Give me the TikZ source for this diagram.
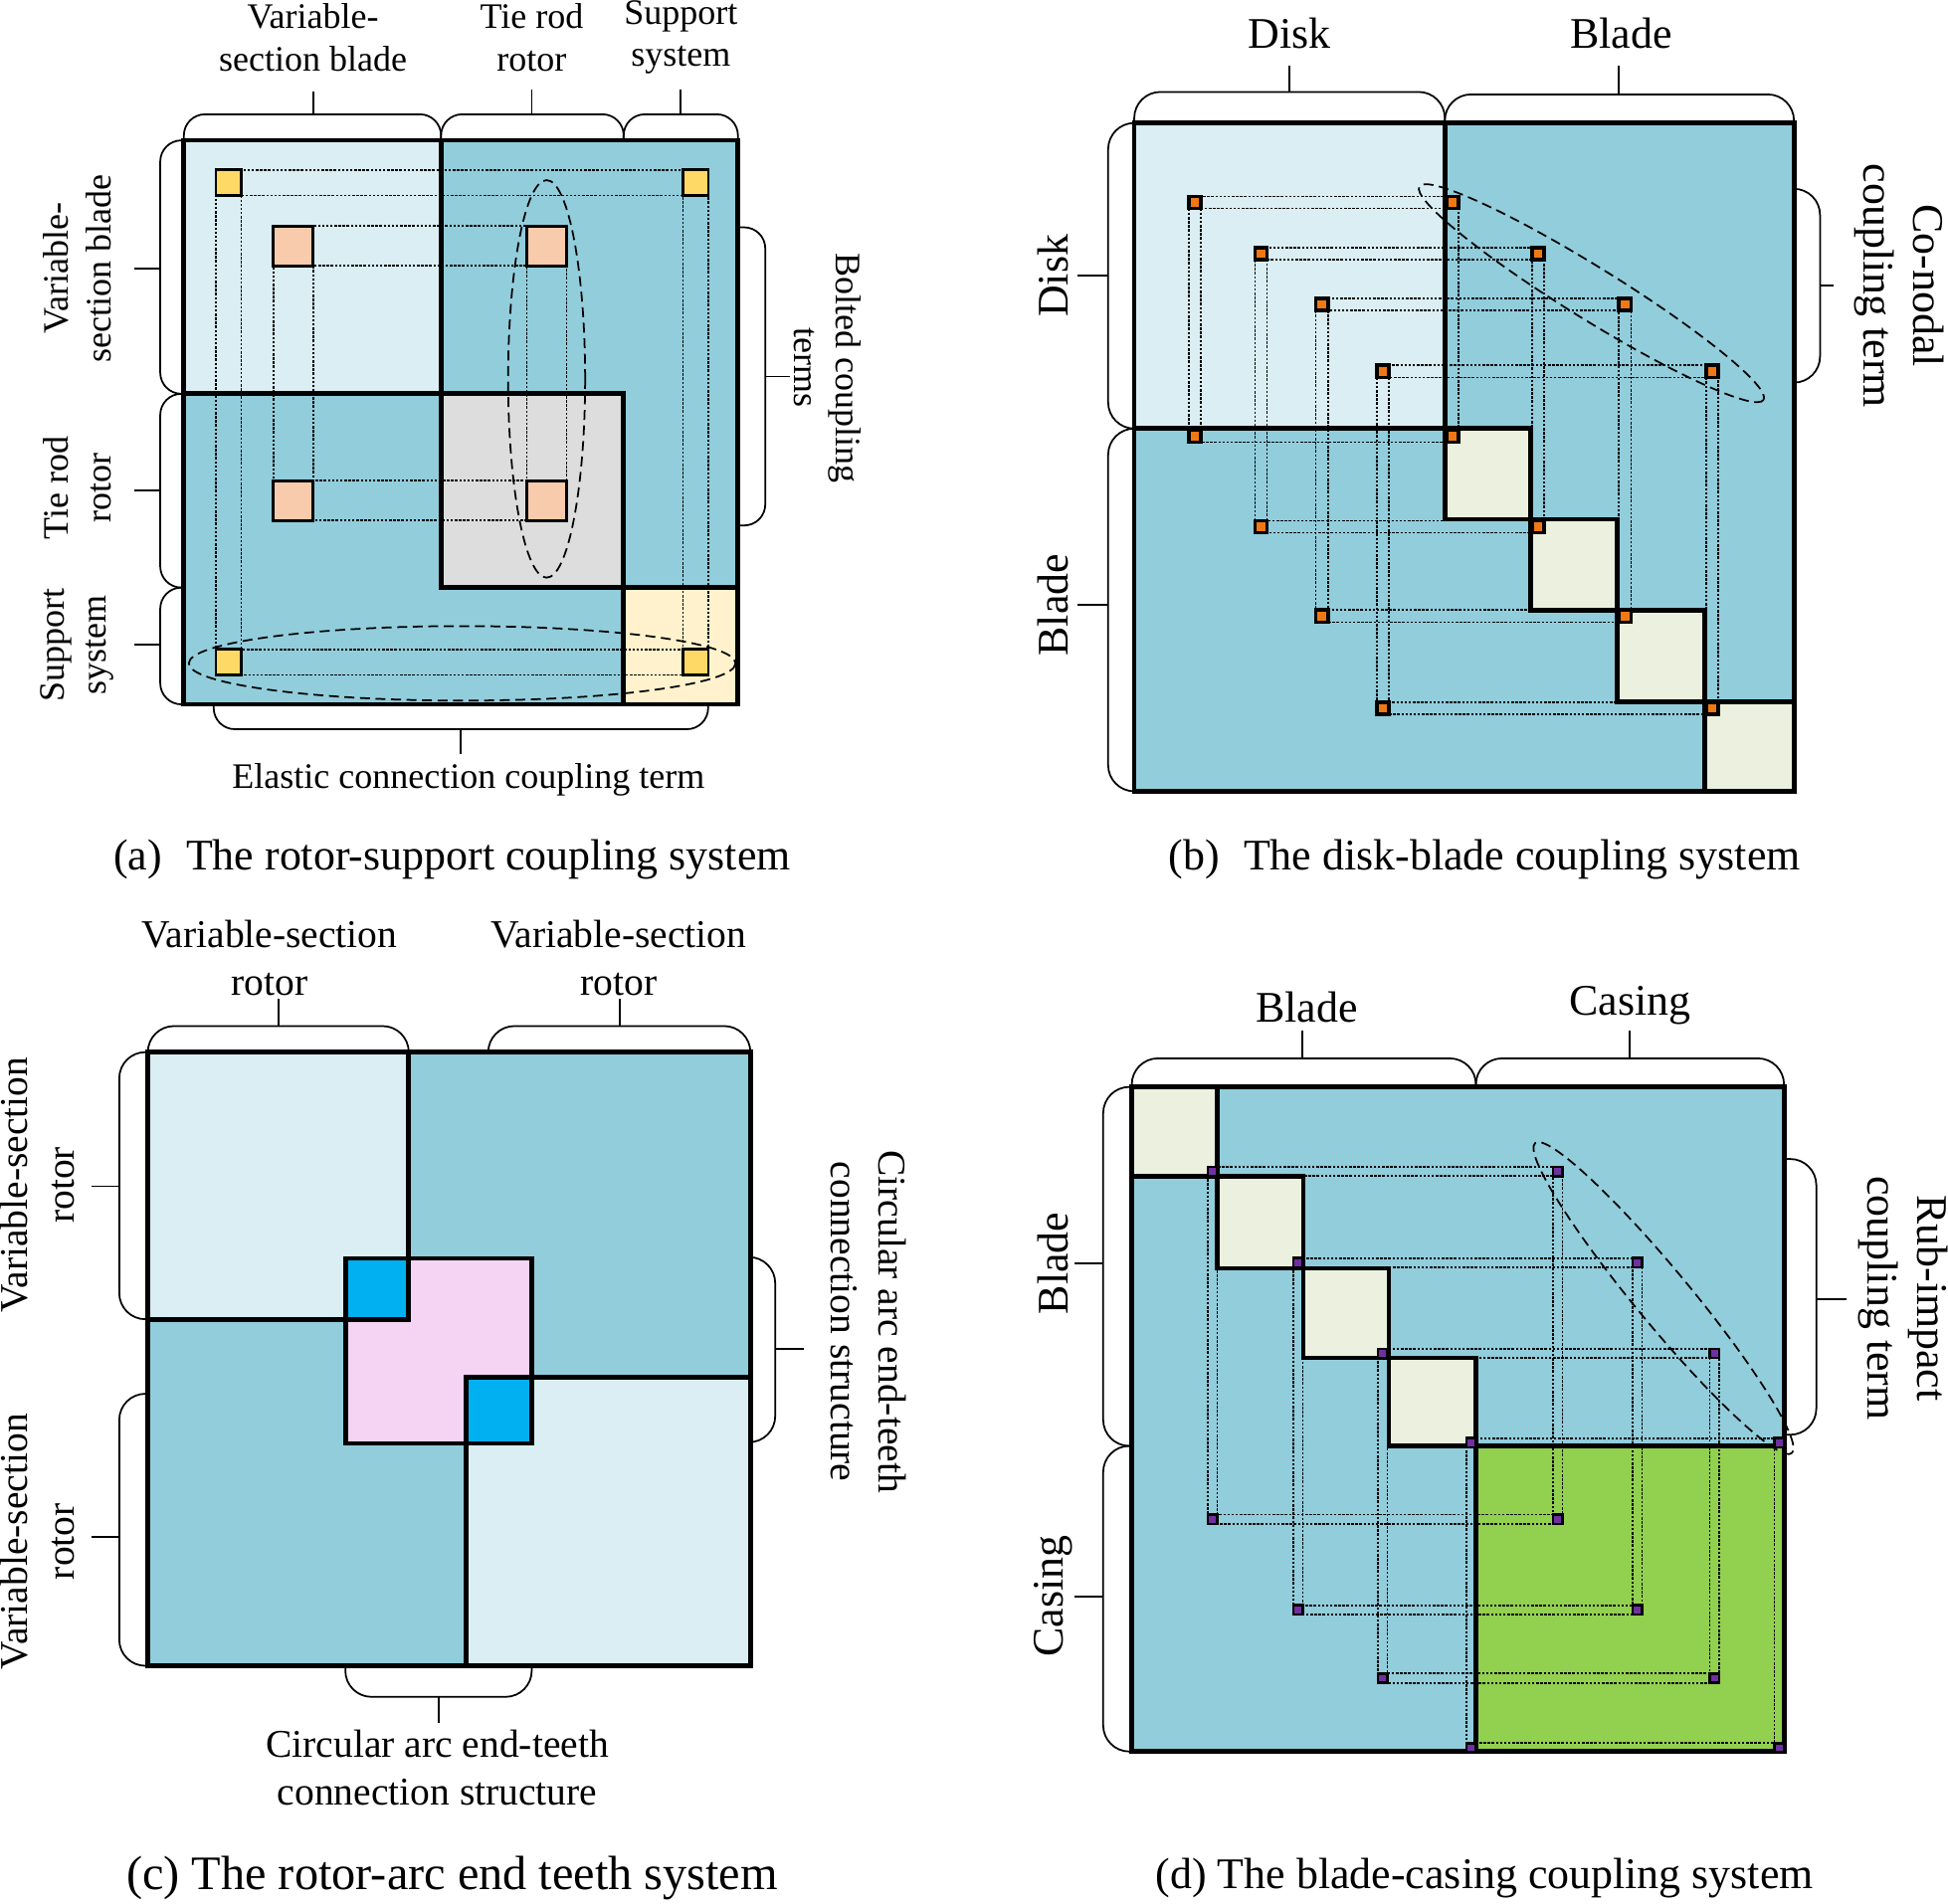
\documentclass[tikz,border=0pt]{standalone}
\usepackage{fontspec}
\setmainfont{Liberation Serif}
\usetikzlibrary{calc}

\definecolor{paleblue}{HTML}{DAEEF3}
\definecolor{midblue}{HTML}{92CDDC}
\definecolor{palegray}{HTML}{DDDDDD}
\definecolor{paleyellow}{HTML}{FFF2CC}
\definecolor{gold}{HTML}{FFD966}
\definecolor{peach}{HTML}{F8CBAD}
\definecolor{palegreen}{HTML}{EBF1DE}
\definecolor{grassgreen}{HTML}{92D050}
\definecolor{toothpink}{HTML}{F4D3F3}
\definecolor{toothblue}{HTML}{00B0F0}
\definecolor{nodeorange}{HTML}{F07814}
\definecolor{nodepurple}{HTML}{7030A0}

\pgfdeclarelayer{back}
\pgfdeclarelayer{dots}
\pgfsetlayers{back,dots,main}

\tikzset{
  thickline/.style={line width=0.038cm},
  thinline/.style={line width=0.014cm},
  bracea/.style={thinline, rounded corners=0.17cm},
  braceb/.style={thinline, rounded corners=0.21cm},
  dotline/.style={line width=0.014cm, dash pattern=on 0.02cm off 0.013cm},
  ringline/.style={line width=0.014cm, dash pattern=on 0.08cm off 0.045cm},
  ysq/.style={draw, line width=0.021cm, fill=gold, minimum size=0.205cm, inner sep=0pt, outer sep=0pt},
  psq/.style={draw, line width=0.024cm, fill=peach, minimum size=0.32cm, inner sep=0pt, outer sep=0pt},
  osq/.style={draw, line width=0.03cm, fill=nodeorange, minimum size=0.097cm, inner sep=0pt, outer sep=0pt},
  vsq/.style={draw, line width=0.02cm, fill=nodepurple, minimum size=0.075cm, inner sep=0pt, outer sep=0pt},
  labela/.style={font=\fontsize{8.2}{9.7}\selectfont, align=center, inner sep=0pt},
  labelb/.style={font=\fontsize{10}{11.3}\selectfont, align=center, inner sep=0pt},
  labelc/.style={font=\fontsize{9}{10.8}\selectfont, align=center, inner sep=0pt},
  caption/.style={font=\fontsize{10}{12}\selectfont, inner sep=0pt},
  captionc/.style={font=\fontsize{11}{13}\selectfont, inner sep=0pt}
}

\begin{document}
\begin{tikzpicture}[x=0.01cm, y=-0.01cm]
  \useasboundingbox (0,0) rectangle (1568,1532);

  % ---------------- (a) rotor-support ----------------
  \begin{pgfonlayer}{back}
    \fill[midblue] (148,113) rectangle (594,567);%
    \fill[paleblue] (148,113) rectangle (355,317);%
    \fill[palegray] (355,317) rectangle (502,473);%
    \fill[paleyellow] (502,473) rectangle (594,567);%
    \draw[thickline] (148,113) rectangle (594,567);%
    \draw[thickline] (148,317) -- (502,317) -- (502,567);%
    \draw[thickline] (355,113) -- (355,473) -- (594,473);%
  \end{pgfonlayer}

  % bolt nodes
  \node[ysq] (ya1) at (184,147) {};%
  \node[ysq] (ya2) at (560,147) {};%
  \node[ysq] (ya3) at (184,533) {};%
  \node[ysq] (ya4) at (560,533) {};%
  \node[psq] (pa1) at (236,198) {};%
  \node[psq] (pa2) at (440,198) {};%
  \node[psq] (pa3) at (236,403) {};%
  \node[psq] (pa4) at (440,403) {};%

  \begin{pgfonlayer}{dots}
    \draw[dotline] (ya1.north west) rectangle (ya4.south east);%
    \draw[dotline] (ya1.south east) rectangle (ya4.north west);%
    \draw[dotline] (pa1.north west) rectangle (pa4.south east);%
    \draw[dotline] (pa1.south east) rectangle (pa4.north west);%
  \end{pgfonlayer}

  \draw[ringline] (440,305) ellipse [x radius=31, y radius=160];%
  \draw[ringline] (372,534) ellipse [x radius=220, y radius=30];%

  % brackets
  \draw[bracea] (148,113) -- (148,92) -- (355,92) -- (355,113);%
  \draw[thinline] (252,92) -- (252,74);%
  \draw[bracea] (355,113) -- (355,92) -- (502,92) -- (502,113);%
  \draw[thinline] (428,92) -- (428,72);%
  \draw[bracea] (502,113) -- (502,92) -- (594,92) -- (594,113);%
  \draw[thinline] (548,92) -- (548,72);%
  \draw[bracea] (148,113) -- (129,113) -- (129,317) -- (148,317);%
  \draw[thinline] (129,216) -- (108,216);%
  \draw[bracea] (148,317) -- (129,317) -- (129,473) -- (148,473);%
  \draw[thinline] (129,395) -- (108,395);%
  \draw[bracea] (148,473) -- (129,473) -- (129,567) -- (148,567);%
  \draw[thinline] (129,519) -- (108,519);%
  \draw[bracea] (594,183) -- (616,183) -- (616,423) -- (594,423);%
  \draw[thinline] (616,303) -- (636,303);%
  \draw[bracea] (172,567) -- (172,587) -- (570,587) -- (570,567);%
  \draw[thinline] (371,587) -- (371,607);%

  \node[labela] (ta1) at (252,30) {Variable-\\section blade};%
  \node[labela] (ta2) at (428,30) {Tie rod\\rotor};%
  \node[labela] (ta3) at (548,30) {Support\\system};%
  \node[labela, rotate=90] (la1) at (62,216) {Variable-\\section blade};%
  \node[labela, rotate=90] (la2) at (62,393) {Tie rod\\rotor};%
  \node[labela, rotate=90] (la3) at (62,519) {Support\\system};%
  \node[labela, rotate=-90] (ra1) at (666,296) {Bolted coupling\\terms};%
  \node[labela] (ba1) at (377,628) {Elastic connection coupling term};%
  \node[caption] (capa) at (364,692) {(a)\hspace{0.55em}The rotor-support coupling system};%

  % ---------------- (b) disk-blade ----------------
  \begin{pgfonlayer}{back}
    \fill[midblue] (913,99) rectangle (1444,637);%
    \fill[paleblue] (913,99) rectangle (1163,345);%
    \fill[palegreen] (1163,345) rectangle (1232,418);%
    \fill[palegreen] (1232,418) rectangle (1302,491);%
    \fill[palegreen] (1302,491) rectangle (1372,565);%
    \fill[palegreen] (1372,565) rectangle (1444,637);%
    \draw[thickline] (913,99) rectangle (1444,637);%
    \draw[thickline] (913,345) -- (1232,345) -- (1232,491) -- (1372,491) -- (1372,637);%
    \draw[thickline] (1163,99) -- (1163,418) -- (1302,418) -- (1302,565) -- (1444,565);%
  \end{pgfonlayer}

  \node[osq] (dk1) at (962,163) {};%
  \node[osq] (dkb1) at (1169,163) {};%
  \node[osq] (bdk1) at (962,351) {};%
  \node[osq] (bl1) at (1169,351) {};%
  \node[osq] (dk2) at (1015,204) {};%
  \node[osq] (dkb2) at (1238,204) {};%
  \node[osq] (bdk2) at (1015,424) {};%
  \node[osq] (bl2) at (1238,424) {};%
  \node[osq] (dk3) at (1064,245) {};%
  \node[osq] (dkb3) at (1308,245) {};%
  \node[osq] (bdk3) at (1064,496) {};%
  \node[osq] (bl3) at (1308,496) {};%
  \node[osq] (dk4) at (1113,299) {};%
  \node[osq] (dkb4) at (1378,299) {};%
  \node[osq] (bdk4) at (1113,570) {};%
  \node[osq] (bl4) at (1378,570) {};%

  \begin{pgfonlayer}{dots}
    \draw[dotline] (dk1.north west) rectangle (bl1.south east);%
    \draw[dotline] (dk1.south east) rectangle (bl1.north west);%
    \draw[dotline] (dk2.north west) rectangle (bl2.south east);%
    \draw[dotline] (dk2.south east) rectangle (bl2.north west);%
    \draw[dotline] (dk3.north west) rectangle (bl3.south east);%
    \draw[dotline] (dk3.south east) rectangle (bl3.north west);%
    \draw[dotline] (dk4.north west) rectangle (bl4.south east);%
    \draw[dotline] (dk4.south east) rectangle (bl4.north west);%
  \end{pgfonlayer}

  \draw[ringline, rotate around={-31.8:(1281,236)}] (1281,236) ellipse [x radius=163, y radius=21];%

  \draw[braceb] (913,99) -- (913,74) -- (1163,74) -- (1163,99);%
  \draw[thinline] (1038,74) -- (1038,53);%
  \draw[braceb] (1163,99) -- (1163,76) -- (1444,76) -- (1444,99);%
  \draw[thinline] (1303,76) -- (1303,53);%
  \draw[braceb] (913,99) -- (892,99) -- (892,345) -- (913,345);%
  \draw[thinline] (892,222) -- (867,222);%
  \draw[braceb] (913,345) -- (892,345) -- (892,637) -- (913,637);%
  \draw[thinline] (892,487) -- (867,487);%
  \draw[braceb] (1444,152) -- (1465,152) -- (1465,308) -- (1444,308);%
  \draw[thinline] (1465,230) -- (1476,230);%

  \node[labelb] (tb1) at (1038,27) {Disk};%
  \node[labelb] (tb2) at (1305,27) {Blade};%
  \node[labelb, rotate=90] (lb1) at (848,222) {Disk};%
  \node[labelb, rotate=90] (lb2) at (848,487) {Blade};%
  \node[labelb, rotate=-90] (rb1) at (1529,230) {Co-nodal\\coupling term};%
  \node[caption] (capb) at (1195,692) {(b)\hspace{0.55em}The disk-blade coupling system};%

  % ---------------- (c) rotor-arc end teeth ----------------
  \begin{pgfonlayer}{back}
    \fill[midblue] (119,847) rectangle (604,1341);%
    \fill[paleblue] (119,847) rectangle (329,1062);%
    \fill[paleblue] (375,1109) rectangle (604,1341);%
    \fill[toothpink] (278,1013) rectangle (428,1162);%
    \fill[toothblue] (278,1013) rectangle (329,1062);%
    \fill[toothblue] (375,1109) rectangle (428,1162);%
    \draw[thickline] (119,847) rectangle (604,1341);%
    \draw[thickline] (329,847) -- (329,1062) -- (119,1062);%
    \draw[thickline] (278,1013) rectangle (428,1162);%
    \draw[thickline] (375,1341) -- (375,1109) -- (604,1109);%
  \end{pgfonlayer}

  \draw[braceb] (119,847) -- (119,826) -- (329,826) -- (329,847);%
  \draw[thinline] (224,826) -- (224,804);%
  \draw[braceb] (393,847) -- (393,826) -- (604,826) -- (604,847);%
  \draw[thinline] (499,826) -- (499,804);%
  \draw[braceb] (119,847) -- (96,847) -- (96,1062) -- (119,1062);%
  \draw[thinline] (96,955) -- (74,955);%
  \draw[braceb] (119,1122) -- (96,1122) -- (96,1341) -- (119,1341);%
  \draw[thinline] (96,1237) -- (74,1237);%
  \draw[braceb] (604,1012) -- (624,1012) -- (624,1161) -- (604,1161);%
  \draw[thinline] (624,1086) -- (647,1086);%
  \draw[braceb] (278,1341) -- (278,1366) -- (428,1366) -- (428,1341);%
  \draw[thinline] (353,1366) -- (353,1387);%

  \node[labelc] (tc1) at (217,771) {Variable-section\\rotor};%
  \node[labelc] (tc2) at (498,771) {Variable-section\\rotor};%
  \node[labelc, rotate=90] (lc1) at (30,954) {Variable-section\\rotor};%
  \node[labelc, rotate=90] (lc2) at (30,1241) {Variable-section\\rotor};%
  \node[labelc, rotate=-90] (rc1) at (699,1064) {Circular arc end-teeth\\connection structure};%
  \node[labelc] (bc1) at (352,1423) {Circular arc end-teeth\\connection structure};%
  \node[captionc] (capc) at (364,1512) {(c) The rotor-arc end teeth system};%

  % ---------------- (d) blade-casing ----------------
  \begin{pgfonlayer}{back}
    \fill[midblue] (911,875) rectangle (1436,1410);%
    \fill[palegreen] (911,875) rectangle (980,947);%
    \fill[palegreen] (980,947) rectangle (1049,1021);%
    \fill[palegreen] (1049,1021) rectangle (1118,1093);%
    \fill[palegreen] (1118,1093) rectangle (1188,1164);%
    \fill[grassgreen] (1188,1164) rectangle (1436,1410);%
    \draw[thickline] (911,875) rectangle (1436,1410);%
    \draw[thickline] (980,875) -- (980,1021) -- (1118,1021) -- (1118,1164) -- (1436,1164);%
    \draw[thickline] (911,947) -- (1049,947) -- (1049,1093) -- (1188,1093) -- (1188,1410);%
  \end{pgfonlayer}

  \node[vsq] (bd1) at (976,943) {};%
  \node[vsq] (bc1) at (1254,943) {};%
  \node[vsq] (cb1) at (976,1223) {};%
  \node[vsq] (cs1) at (1254,1223) {};%
  \node[vsq] (bd2) at (1045,1016.5) {};%
  \node[vsq] (bc2) at (1318,1016.5) {};%
  \node[vsq] (cb2) at (1045,1296) {};%
  \node[vsq] (cs2) at (1318,1296) {};%
  \node[vsq] (bd3) at (1113,1089.5) {};%
  \node[vsq] (bc3) at (1380,1089.5) {};%
  \node[vsq] (cb3) at (1113,1351) {};%
  \node[vsq] (cs3) at (1380,1351) {};%
  \node[vsq] (bd4) at (1184,1161.5) {};%
  \node[vsq] (bc4) at (1432,1161.5) {};%
  \node[vsq] (cb4) at (1184,1407) {};%
  \node[vsq] (cs4) at (1432,1407) {};%

  \begin{pgfonlayer}{dots}
    \draw[dotline] (bd1.north west) rectangle (cs1.south east);%
    \draw[dotline] (bd1.south east) rectangle (cs1.north west);%
    \draw[dotline] (bd2.north west) rectangle (cs2.south east);%
    \draw[dotline] (bd2.south east) rectangle (cs2.north west);%
    \draw[dotline] (bd3.north west) rectangle (cs3.south east);%
    \draw[dotline] (bd3.south east) rectangle (cs3.north west);%
    \draw[dotline] (bd4.north west) rectangle (cs4.south east);%
    \draw[dotline] (bd4.south east) rectangle (cs4.north west);%
  \end{pgfonlayer}

  \draw[ringline, rotate around={-50.4:(1339,1045)}] (1339,1045) ellipse [x radius=162, y radius=22];%

  \draw[braceb] (911,875) -- (911,852) -- (1188,852) -- (1188,875);%
  \draw[thinline] (1048,852) -- (1048,830);%
  \draw[braceb] (1188,875) -- (1188,852) -- (1436,852) -- (1436,875);%
  \draw[thinline] (1312,852) -- (1312,830);%
  \draw[braceb] (911,875) -- (888,875) -- (888,1164) -- (911,1164);%
  \draw[thinline] (888,1017) -- (865,1017);%
  \draw[braceb] (911,1164) -- (888,1164) -- (888,1410) -- (911,1410);%
  \draw[thinline] (888,1285) -- (865,1285);%
  \draw[braceb] (1436,933) -- (1462,933) -- (1462,1155) -- (1436,1155);%
  \draw[thinline] (1462,1046) -- (1486,1046);%

  \node[labelb] (td1) at (1052,811) {Blade};%
  \node[labelb] (td2) at (1312,809) {Casing};%
  \node[labelb, rotate=90] (ld1) at (848,1017) {Blade};%
  \node[labelb, rotate=90] (ld2) at (848,1285) {Casing};%
  \node[labelb, rotate=-90] (rd1) at (1532,1045) {Rub-impact\\coupling term};%
  \node[caption] (capd) at (1195,1512) {(d) The blade-casing coupling system};%
\end{tikzpicture}
\end{document}
